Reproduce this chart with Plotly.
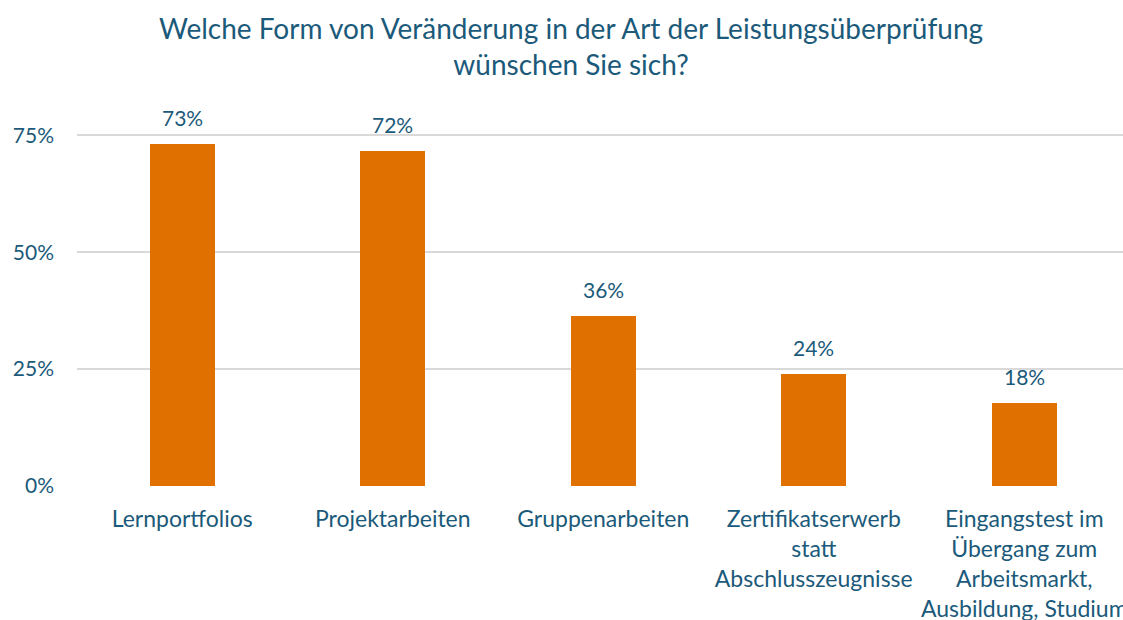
import plotly.graph_objects as go

categories = [
    "Lernportfolios",
    "Projektarbeiten",
    "Gruppenarbeiten",
    "Zertifikatserwerb<br>statt<br>Abschlusszeugnisse",
    "Eingangstest im<br>Übergang zum<br>Arbeitsmarkt,<br>Ausbildung, Studium",
]
values = [0.731, 0.716, 0.363, 0.239, 0.177]
y_ticks = [0, 0.25, 0.5, 0.75]
y_tick_labels = ["0%", "25%", "50%", "75%"]

TEXT = "#1B5A7A"
FONT = "Lato, 'Open Sans', sans-serif"

xs = list(range(len(categories)))

fig = go.Figure(
    go.Bar(
        x=xs,
        y=values,
        marker=dict(color="#E07000", line=dict(width=0)),
        width=0.31,
        hoverinfo="skip",
    )
)

for x, v in zip(xs, values):
    fig.add_annotation(
        x=x, y=v, xref="x", yref="y",
        text=f"{round(v*100)}%",
        showarrow=False,
        yanchor="bottom",
        yshift=12,
        font=dict(size=21, color=TEXT, family=FONT),
    )

fig.update_layout(
    width=1123,
    height=620,
    paper_bgcolor="white",
    plot_bgcolor="white",
    margin=dict(l=77, r=0, t=112, b=134, autoexpand=False),
    showlegend=False,
    font=dict(family=FONT, color=TEXT),
    title=dict(
        text="Welche Form von Veränderung in der Art der Leistungsüberprüfung<br>wünschen Sie sich?",
        x=0.5085,
        xanchor="center",
        y=0.937,
        yanchor="top",
        font=dict(size=28, color=TEXT, family=FONT),
    ),
    bargap=0,
)

fig.update_xaxes(
    tickmode="array",
    tickvals=xs,
    ticktext=categories,
    range=[-0.5, 4.469],
    showgrid=False,
    zeroline=False,
    showline=False,
    ticks="",
    tickangle=0,
    automargin=False,
    ticklabeloverflow="allow",
    tickfont=dict(size=23, color=TEXT, family=FONT),
    ticklabelstandoff=17,
)

fig.update_yaxes(
    range=[0, 0.8],
    tickmode="array",
    tickvals=y_ticks,
    ticktext=y_tick_labels,
    showgrid=True,
    gridcolor="#D9D9D9",
    gridwidth=1.5,
    zeroline=False,
    showline=False,
    ticks="",
    automargin=False,
    tickfont=dict(size=21, color=TEXT, family=FONT),
    ticklabelstandoff=22,
)

fig.write_html(
    "out.html",
    config={"displayModeBar": False},
    post_script="document.body.style.margin='0';document.body.style.overflow='hidden';",
)
